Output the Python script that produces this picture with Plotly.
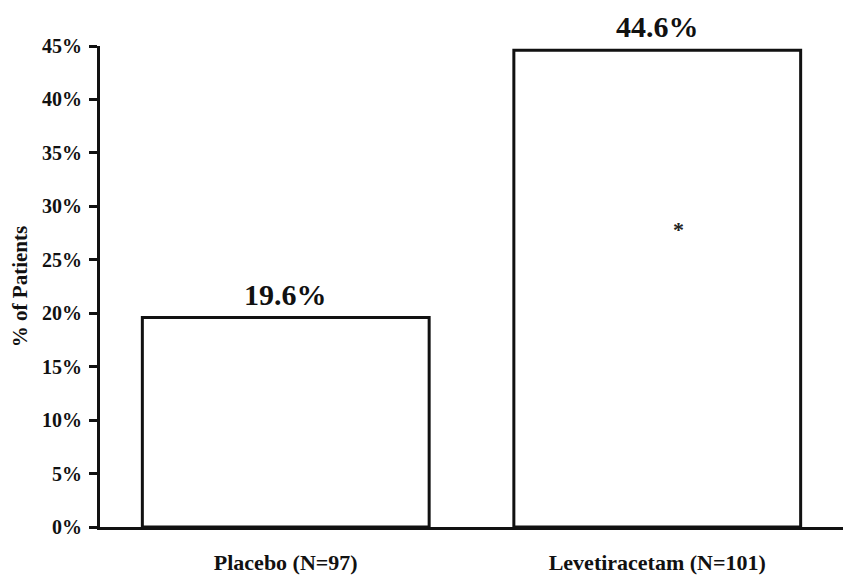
import plotly.graph_objects as go

categories = ["Placebo (N=97)", "Levetiracetam (N=101)"]
values = [19.6, 44.6]
value_labels = ["19.6%", "44.6%"]
y_ticks = [0, 5, 10, 15, 20, 25, 30, 35, 40, 45]
y_tick_labels = [f"{v}%" for v in y_ticks]
sig_marker_y = 27.8

FONT = "Liberation Serif, Times New Roman, serif"

fig = go.Figure()
fig.add_trace(go.Bar(
    x=categories, y=values, width=0.772,
    marker=dict(color="white", line=dict(color="#111111", width=3)),
    hoverinfo="skip",
))

for c, v, t in zip(categories, values, value_labels):
    fig.add_annotation(x=c, y=v, text=f"<b>{t}</b>", showarrow=False,
                       yanchor="bottom", yshift=5,
                       font=dict(family=FONT, size=30, color="#111111"))

fig.add_annotation(x=1.056, y=sig_marker_y, text="<b>*</b>", showarrow=False,
                   xref="x", yref="y",
                   font=dict(family=FONT, size=22, color="#222222"))

fig.update_layout(
    width=849, height=580,
    margin=dict(l=92, r=14, t=38, b=61),
    paper_bgcolor="white", plot_bgcolor="white",
    showlegend=False,
    font=dict(family=FONT, color="#111111"),
    bargap=0.228,
)
fig.update_xaxes(
    range=[-0.5, 1.5], showline=True, linecolor="#111111", linewidth=3,
    ticks="outside", ticklen=0, tickcolor="white",
    ticklabelstandoff=14, automargin=False,
    tickfont=dict(family=FONT, size=22, color="#111111"),
    tickprefix="<b>", ticksuffix="</b>",
    showgrid=False, zeroline=False,
)
fig.update_yaxes(
    range=[0, 45], tickvals=y_ticks, ticktext=[f"<b>{t}</b>" for t in y_tick_labels],
    showline=True, linecolor="#111111", linewidth=3,
    ticks="outside", ticklen=8, tickwidth=3, tickcolor="#111111",
    ticklabelstandoff=3, automargin=False,
    tickfont=dict(family=FONT, size=20, color="#111111"),
    showgrid=False, zeroline=False,
    title=dict(text="<b>% of Patients</b>", font=dict(family=FONT, size=21, color="#111111")),
)

fig.write_html("out.html")
